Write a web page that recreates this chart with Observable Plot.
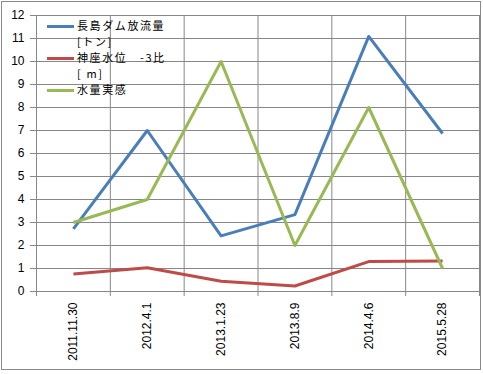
<!DOCTYPE html>
<html>
<head>
<meta charset="utf-8">
<script src="https://cdn.jsdelivr.net/npm/d3@7"></script>
<script src="https://cdn.jsdelivr.net/npm/@observablehq/plot@0.6"></script>
<style>
  html, body { margin: 0; padding: 0; background: #fff; }
  #wrap { position: relative; width: 483px; height: 374px; overflow: hidden; }
  #border { position: absolute; left: 1px; top: 1px; width: 478px; height: 367px; border: 1.5px solid #8a8a8a; pointer-events: none; }
  #legend { position: absolute; left: 47px; top: 17px; font-family: "Noto Sans CJK JP", sans-serif; font-size: 11px; letter-spacing: 1.6px; color: #000; }
  .row { display: flex; align-items: flex-start; }
  .sw { width: 27px; height: 3px; margin-top: 8px; margin-right: 3px; flex: none; }
  .ln { height: 16px; line-height: 16px; white-space: nowrap; }
</style>
</head>
<body>
<div id="wrap"><div id="chart"></div><div id="legend"></div><div id="border"></div></div>
<script>
const dates = ["2011.11.30", "2012.4.1", "2013.1.23", "2013.8.9", "2014.4.6", "2015.5.28"];
const damOutflow = [2.72, 7.0, 2.42, 3.34, 11.09, 6.87];
const kanzaLevel = [0.76, 1.03, 0.45, 0.24, 1.30, 1.33];
const waterFeel = [3, 4, 10, 2, 8, 1];
const seriesNames = ["長島ダム放流量[トン]", "神座水位　-3比[m]", "水量実感"];
const legendLines = [["長島ダム放流量", "[トン]"], ["神座水位　-3比", "[ m]"], ["水量実感"]];
const seriesColors = ["#4a7ebb", "#be4b48", "#98b954"];
const yTicks = d3.range(0, 13);

const seriesValues = [damOutflow, kanzaLevel, waterFeel];
const rows = [];
seriesValues.forEach((vals, s) => vals.forEach((v, i) => rows.push({series: seriesNames[s], i, v})));

const idx = dates.map((d, i) => i);
const bounds = d3.range(-0.5, dates.length, 1);
const grid = "#878787";

const chart = Plot.plot({
  width: 483,
  height: 374,
  marginLeft: 36,
  marginRight: 4,
  marginTop: 15,
  marginBottom: 83,
  style: {fontFamily: "'Liberation Sans', Arial, sans-serif", fontSize: "12px", color: "#000", background: "#fff"},
  x: {type: "linear", domain: [-0.5, dates.length - 0.5]},
  y: {domain: [0, 12]},
  color: {domain: seriesNames, range: seriesColors},
  marks: [
    Plot.ruleY(yTicks, {stroke: grid, strokeWidth: 1, strokeOpacity: 1}),
    Plot.ruleX(bounds, {stroke: grid, strokeWidth: 1, strokeOpacity: 1}),
    Plot.axisY(yTicks, {tickSize: 6, tickPadding: 6, stroke: grid, strokeOpacity: 1, label: null, fill: "#000"}),
    Plot.axisX(bounds, {tickSize: 5, tickFormat: () => "", stroke: grid, strokeOpacity: 1, label: null}),
    Plot.axisX(idx, {tickSize: 0, tickPadding: 11, tickRotate: -90, tickFormat: i => dates[i], label: null, fill: "#000"}),
    Plot.line(rows, {x: "i", y: "v", z: "series", stroke: "series", strokeWidth: 3, strokeLinejoin: "round", strokeLinecap: "butt"})
  ]
});
document.getElementById("chart").appendChild(chart);

const legend = document.getElementById("legend");
legendLines.forEach((lines, s) => {
  const row = document.createElement("div");
  row.className = "row";
  const sw = document.createElement("div");
  sw.className = "sw";
  sw.style.background = seriesColors[s];
  const txt = document.createElement("div");
  lines.forEach(t => {
    const ln = document.createElement("div");
    ln.className = "ln";
    ln.textContent = t;
    txt.appendChild(ln);
  });
  row.appendChild(sw);
  row.appendChild(txt);
  legend.appendChild(row);
});
</script>
</body>
</html>
